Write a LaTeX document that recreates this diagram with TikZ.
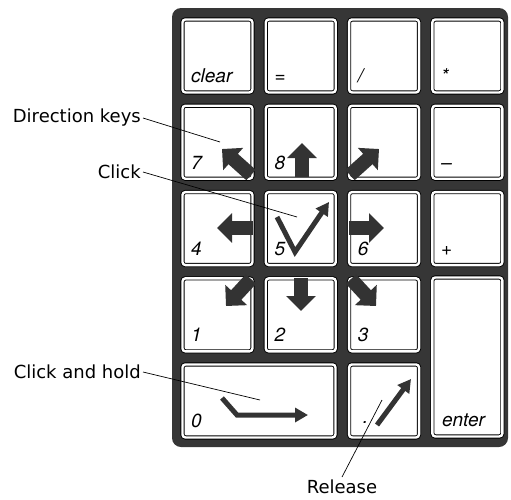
\documentclass[tikz,border=0pt]{standalone}
\usepackage{fontspec}
\setmainfont{DejaVu Sans}
\newfontfamily\keyfont{TeX Gyre Heros}
\usetikzlibrary{arrows.meta}
\definecolor{framegray}{HTML}{363636}
\definecolor{arrowgray}{HTML}{333333}
\tikzset{
  keycap/.style={draw, double, double distance=2.4pt, line width=0.9pt, fill=white,
    rounded corners=3pt, minimum width=70pt, minimum height=73pt,
    anchor=north west, inner sep=0pt},
  keylbl/.style={anchor=base west, inner sep=0pt,
    font=\keyfont\itshape\fontsize{19}{19}\selectfont},
  dirarrow/.style={draw=arrowgray, line width=14pt, -{Triangle[length=15pt,width=29pt]}},
  cursor/.style={draw=arrowgray, line width=5pt, line join=miter,
    -{Triangle[length=13pt,width=14pt]}},
  callout/.style={inner sep=0pt, font=\fontsize{18}{18}\selectfont},
  pointer/.style={draw, line width=0.7pt}
}
\begin{document}
\begin{tikzpicture}[x=1pt,y=-1pt]
\useasboundingbox (0,0) rectangle (511,499);
% frame
\fill[framegray, rounded corners=9pt] (172,8) rectangle (508,447);
% keys
\foreach \c/\r/\n/\t in {0/0/kclear/clear, 1/0/keq/=, 3/0/kmul/*,
  0/1/k7/7, 1/1/k8/8, 2/1/k9/{}, 3/1/kminus/–,
  0/2/k4/4, 1/2/k5/5, 2/2/k6/6, 3/2/kplus/+,
  0/3/k1/1, 1/3/k2/2, 2/3/k3/3}
{
  \node[keycap] (\n) at ({182+83.3*\c},{19+86.3*\r}) {};
  \node[keylbl] at ([shift={(9pt,10pt)}]\n.south west) {\t};
}
\node[keycap] (kdiv) at ({182+83.3*2},19) {};
\node[keylbl] at ([shift={(9pt,10pt)}]kdiv.south west) {/};
\node[keycap, minimum width=153pt] (k0) at (182,364) {};
\node[keylbl] at ([shift={(9pt,10pt)}]k0.south west) {0};
\node[keycap] (kdot) at ({182+83.3*2},364) {};
\node[keylbl] at ([shift={(14pt,14pt)}]kdot.south west) {.};
\node[keycap, minimum height=159pt] (kenter) at ({182+83.3*3},277) {};
\node[keylbl] at ([shift={(10pt,10pt)}]kenter.south west) {enter};
% direction arrows
\draw[dirarrow] (251,175) -- (222,149);
\draw[dirarrow] (302,177) -- (302,143);
\draw[dirarrow] (350,175) -- (379,149);
\draw[dirarrow] (253,228) -- (217,228);
\draw[dirarrow] (349,228) -- (384,228);
\draw[dirarrow] (251,279) -- (226,306);
\draw[dirarrow] (301,278) -- (301,311);
\draw[dirarrow] (351,279) -- (376,306);
% click, click and hold, release
\draw[cursor] (277,217) -- (295,252) -- (329,202);
\draw[cursor] (222,398) -- (237,415) -- (308,415);
\draw[cursor] (377,425) -- (411,379);
% callouts
\node[callout, anchor=east] (dirlbl) at (141,118) {Direction keys};
\node[callout, anchor=east] (clicklbl) at (141,172) {Click};
\node[callout, anchor=east] (holdlbl) at (141,372) {Click and hold};
\node[callout, anchor=north] (rellbl) at (342,480) {Release};
\coordinate (dirpt) at (220,142);
\coordinate (clickpt) at (297,217);
\coordinate (holdpt) at (260,400);
\coordinate (relpt) at (382,400);
\draw[pointer] ([xshift=2pt]dirlbl.east) -- (dirpt);
\draw[pointer] ([xshift=2pt]clicklbl.east) -- (clickpt);
\draw[pointer] ([xshift=2pt]holdlbl.east) -- (holdpt);
\draw[pointer] ([yshift=3pt]rellbl.north) -- (relpt);
\end{tikzpicture}
\end{document}
